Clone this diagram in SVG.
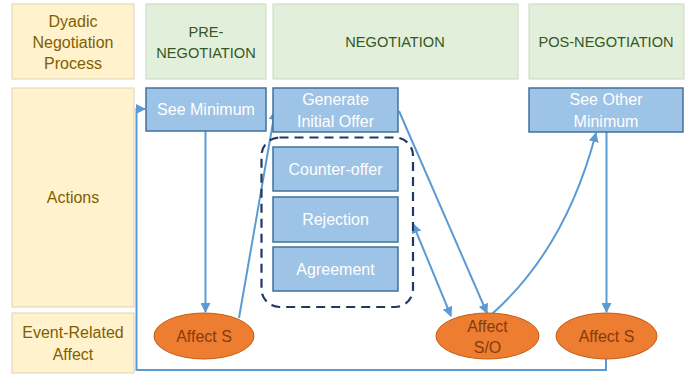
<svg xmlns="http://www.w3.org/2000/svg" width="690" height="377" viewBox="0 0 690 377">
  <defs>
    <style>
      text { font-family: "Liberation Sans", Arial, sans-serif; font-size: 16px; text-anchor: middle; }
      .caps { font-size: 14.6px; }
      .cell-y { fill: #FFF2CC; stroke: #DDD3B5; stroke-width: 1; }
      .cell-g { fill: #E2EFDA; stroke: #CCD8C4; stroke-width: 1; }
      .t-y { fill: #7F6000; }
      .t-g { fill: #375623; }
      .box { fill: #9DC3E6; stroke: #41719C; stroke-width: 1.5; }
      .t-box { fill: #FFFFFF; }
      .oval { fill: #ED7D31; stroke: #C55A11; stroke-width: 1; }
      .t-oval { fill: #843C0C; }
      .link { fill: none; stroke: #5B9BD5; stroke-width: 2; }
      .group { fill: none; stroke: #203864; stroke-width: 2.2; stroke-dasharray: 9 6; }
    </style>
    <marker id="arrow" viewBox="0 0 10 10" refX="9" refY="5" markerWidth="5" markerHeight="5" orient="auto-start-reverse" markerUnits="strokeWidth">
      <path d="M0,0 L10,5 L0,10 z" fill="#5B9BD5"/>
    </marker>
  </defs>

  <rect width="690" height="377" fill="#FFFFFF"/>

  <!-- row labels -->
  <g id="lbl-process">
    <rect class="cell-y" x="12" y="4" width="122" height="75"/>
    <text class="t-y" x="73" y="27">Dyadic</text>
    <text class="t-y" x="73" y="48">Negotiation</text>
    <text class="t-y" x="73" y="69">Process</text>
  </g>
  <g id="lbl-actions">
    <rect class="cell-y" x="12" y="88" width="122" height="219"/>
    <text class="t-y" x="73" y="203">Actions</text>
  </g>
  <g id="lbl-affect">
    <rect class="cell-y" x="12" y="313" width="122" height="60"/>
    <text class="t-y" x="73" y="338">Event-Related</text>
    <text class="t-y" x="73" y="360">Affect</text>
  </g>

  <!-- phase headers -->
  <g id="hdr-pre">
    <rect class="cell-g" x="146" y="4" width="120" height="75"/>
    <text class="t-g caps" x="206" y="37">PRE-</text>
    <text class="t-g caps" x="206" y="58">NEGOTIATION</text>
  </g>
  <g id="hdr-neg">
    <rect class="cell-g" x="273" y="4" width="245" height="75"/>
    <text class="t-g caps" x="395" y="47">NEGOTIATION</text>
  </g>
  <g id="hdr-pos">
    <rect class="cell-g" x="529" y="4" width="155" height="75"/>
    <text class="t-g caps" x="606" y="47">POS-NEGOTIATION</text>
  </g>

  <!-- connectors -->
  <g id="connectors">
    <path class="link" d="M606,358 V370 H136.5 V109 H145" marker-end="url(#arrow)"/>
    <path class="link" d="M205.5,131 V312" marker-end="url(#arrow)"/>
    <path class="link" d="M239,318 L275,111" marker-end="url(#arrow)"/>
    <path class="link" d="M399,111 L487,313" marker-end="url(#arrow)"/>
    <path class="link" d="M413,224 L451,316" marker-start="url(#arrow)" marker-end="url(#arrow)"/>
    <path class="link" d="M492,314 Q566,248 596,133" marker-end="url(#arrow)"/>
    <path class="link" d="M606.5,132 V312" marker-end="url(#arrow)"/>
  </g>

  <!-- action boxes -->
  <g id="see-min">
    <rect class="box" x="146" y="88" width="120" height="43"/>
    <text class="t-box" x="206" y="115">See Minimum</text>
  </g>
  <g id="gen-offer">
    <rect class="box" x="273" y="88" width="125" height="44"/>
    <text class="t-box" x="335.5" y="105">Generate</text>
    <text class="t-box" x="335.5" y="127">Initial Offer</text>
  </g>
  <g id="see-other-min">
    <rect class="box" x="529" y="88" width="154" height="44"/>
    <text class="t-box" x="606" y="105">See Other</text>
    <text class="t-box" x="606" y="127">Minimum</text>
  </g>

  <g id="responses">
    <rect class="group" x="261.5" y="137.5" width="151.5" height="169.5" rx="18"/>
    <g id="counter-offer">
      <rect class="box" x="273" y="147" width="125" height="44"/>
      <text class="t-box" x="335.5" y="175">Counter-offer</text>
    </g>
    <g id="rejection">
      <rect class="box" x="273" y="197" width="125" height="45"/>
      <text class="t-box" x="335.5" y="225">Rejection</text>
    </g>
    <g id="agreement">
      <rect class="box" x="273" y="247" width="125" height="44"/>
      <text class="t-box" x="335.5" y="275">Agreement</text>
    </g>
  </g>

  <!-- affect ovals -->
  <g id="affect-s-pre">
    <ellipse class="oval" cx="204" cy="336" rx="50" ry="23"/>
    <text class="t-oval" x="204" y="341.5">Affect S</text>
  </g>
  <g id="affect-so">
    <ellipse class="oval" cx="487.5" cy="336" rx="51.5" ry="23"/>
    <text class="t-oval" x="487.5" y="331.5">Affect</text>
    <text class="t-oval" x="487.5" y="353">S/O</text>
  </g>
  <g id="affect-s-pos">
    <ellipse class="oval" cx="606.5" cy="336" rx="50.5" ry="23"/>
    <text class="t-oval" x="606.5" y="341.5">Affect S</text>
  </g>
</svg>
